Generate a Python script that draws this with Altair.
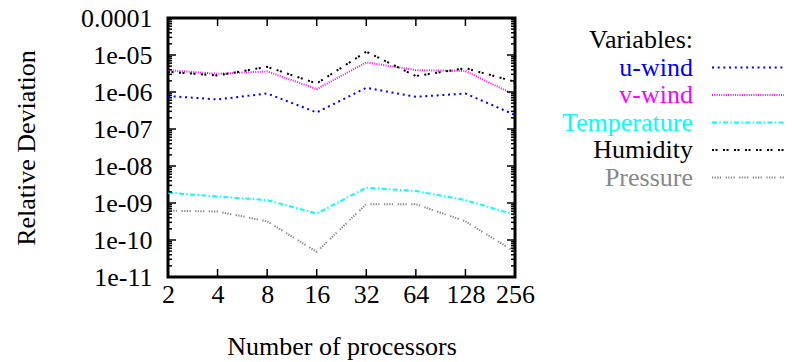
import altair as alt
import pandas as pd

# ---- data ----
procs = [2, 4, 8, 16, 32, 64, 128, 256]
u_wind = [7.8e-7, 6.3e-7, 9.1e-7, 2.8e-7, 1.3e-6, 7.4e-7, 9.1e-7, 2.4e-7]
v_wind = [3.9e-6, 3.1e-6, 3.6e-6, 1.2e-6, 6.3e-6, 3.9e-6, 3.7e-6, 8.3e-7]
temperature = [1.9e-9, 1.5e-9, 1.2e-9, 5.2e-10, 2.6e-9, 2.1e-9, 1.2e-9, 4.8e-10]
humidity = [3.5e-6, 2.8e-6, 4.8e-6, 1.7e-6, 1.23e-5, 2.7e-6, 4.4e-6, 1.9e-6]
pressure = [6.2e-10, 5.9e-10, 3.2e-10, 4.8e-11, 9.3e-10, 9.3e-10, 3.2e-10, 4.8e-11]

series_names = ["u-wind", "v-wind", "Temperature", "Humidity", "Pressure"]
series_values = [u_wind, v_wind, temperature, humidity, pressure]
series_colors = ["#0000ff", "#ff00ff", "#00ffff", "#000000", "#888888"]
series_dash = [[2, 3.7], [1, 1.3], [5, 2.3, 1.5, 2.3], [2, 1.5, 2, 5.5],
               [1.3, 1.3, 1.3, 1.3, 1.3, 1.3, 1.3, 4.5]]

y_ticks = [1e-11, 1e-10, 1e-9, 1e-8, 1e-7, 1e-6, 1e-5, 1e-4]
y_tick_labels = ["1e-11", "1e-10", "1e-09", "1e-08", "1e-07", "1e-06", "1e-05", "0.0001"]
x_ticks = procs
legend_title = "Variables:"

# ---- layout ----
W, H = 347, 259
FONT = "'Liberation Serif', 'DejaVu Serif', serif"
FS = 26

xscale = alt.Scale(type="log", base=2, domain=[2, 256], nice=False)
yscale = alt.Scale(type="log", domain=[1e-11, 1e-4], nice=False)

label_arr = "[" + ",".join("'%s'" % s for s in y_tick_labels) + "]"
ylabel_expr = label_arr + "[round(log(datum.value)/LN10) + 11]"

xaxis = alt.Axis(values=x_ticks, format="d", title="Number of processors",
                 grid=False, ticks=False, domain=False,
                 labelFont=FONT, labelFontSize=FS, labelColor="black",
                 labelPadding=4, labelFlush=False,
                 titleFont=FONT, titleFontSize=FS, titleFontWeight="normal",
                 titleColor="black", titlePadding=26)
yaxis = alt.Axis(values=y_ticks, labelExpr=ylabel_expr, title="Relative Deviation",
                 grid=False, ticks=False, domain=False,
                 labelFont=FONT, labelFontSize=FS, labelColor="black",
                 labelPadding=16, labelFlush=False,
                 titleFont=FONT, titleFontSize=FS, titleFontWeight="normal",
                 titleColor="black", titlePadding=41)

layers = []
for i, (name, vals) in enumerate(zip(series_names, series_values)):
    df = pd.DataFrame({"procs": procs, "dev": vals})
    layers.append(
        alt.Chart(df).mark_line(color=series_colors[i], strokeDash=series_dash[i],
                                strokeWidth=2, clip=True).encode(
            x=alt.X("procs:Q", scale=xscale, axis=xaxis),
            y=alt.Y("dev:Q", scale=yscale, axis=yaxis),
        )
    )

# ---- inward ticks (major + minor on y, major on x) ----
minor_y = [m * d for d in y_ticks[:-1] for m in range(2, 10)]
ymaj = pd.DataFrame({"v": y_ticks})
ymin = pd.DataFrame({"v": minor_y})
xmaj = pd.DataFrame({"v": x_ticks})

def yrule(df, x0, x1):
    return alt.Chart(df).mark_rule(color="black", strokeWidth=1.5).encode(
        y=alt.Y("v:Q", scale=yscale, axis=yaxis), x=alt.value(x0), x2=alt.value(x1))

def xrule(df, y0, y1):
    return alt.Chart(df).mark_rule(color="black", strokeWidth=1.5).encode(
        x=alt.X("v:Q", scale=xscale, axis=xaxis), y=alt.value(y0), y2=alt.value(y1))

layers += [
    yrule(ymaj, 0, 8), yrule(ymaj, W - 8, W),
    yrule(ymin, 0, 4), yrule(ymin, W - 4, W),
    xrule(xmaj, H, H - 8), xrule(xmaj, 0, 8),
]

# ---- legend drawn at the right ----
one = pd.DataFrame({"a": [0]})
LX_TEXT, LX0, LX1 = 525, 544, 622
LY0, LDY = 22, 27.5
layers.append(alt.Chart(one).mark_text(text=legend_title, align="right", baseline="middle",
                                       font=FONT, fontSize=FS, color="black").encode(
    x=alt.value(LX_TEXT), y=alt.value(LY0)))
for i, name in enumerate(series_names):
    yy = LY0 + LDY * (i + 1)
    layers.append(alt.Chart(one).mark_text(text=name, align="right", baseline="middle",
                                           font=FONT, fontSize=FS, color=series_colors[i]).encode(
        x=alt.value(LX_TEXT), y=alt.value(yy)))
    layers.append(alt.Chart(one).mark_rule(color=series_colors[i], strokeDash=series_dash[i],
                                           strokeWidth=2).encode(
        x=alt.value(LX0), x2=alt.value(LX1), y=alt.value(yy)))

chart = alt.layer(*layers).properties(
    width=W, height=H,
    background="white",
    autosize=alt.AutoSizeParams(type="none"),
    padding={"left": 160, "top": 10, "right": 776 - 160 - W, "bottom": 354 - 10 - H},
).configure_view(stroke="black", strokeWidth=3)

chart.save("out.html", embed_options={"renderer": "svg", "actions": False})
